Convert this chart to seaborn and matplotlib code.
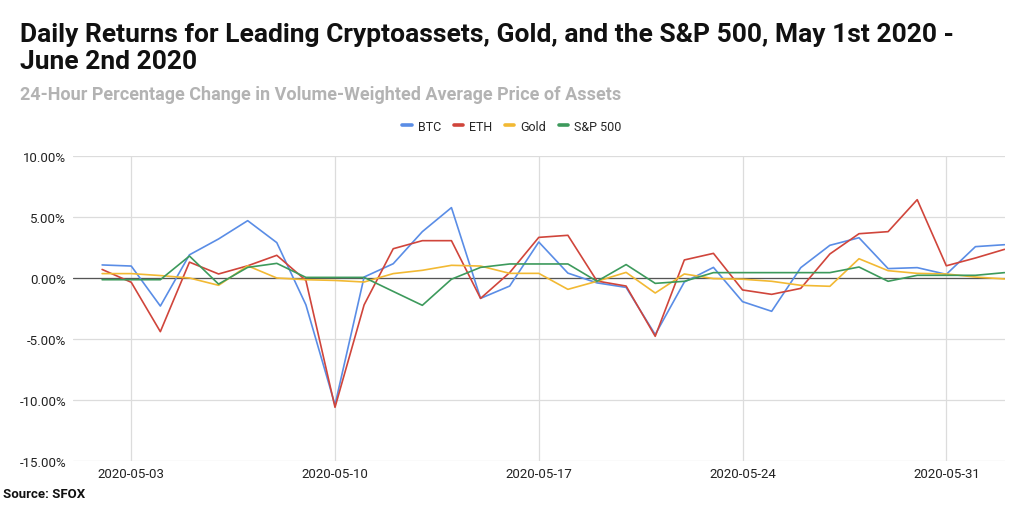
# ==========================================================
# Daily returns: BTC, ETH, Gold, S&P 500 (May 2 - Jun 2 2020)
# ==========================================================

import pandas as pd
import numpy as np
import matplotlib.pyplot as plt
import matplotlib.dates as mdates
from matplotlib.ticker import FuncFormatter
import seaborn as sns

# ==========================================================
# Data (percent change)
# ==========================================================

dates = pd.date_range("2020-05-02", "2020-06-02", freq="D")

btc = [1.07, 0.98, -2.3, 1.9, 3.2, 4.7, 2.9, -2.2, -10.4, 0.08, 1.17, 3.8,
       5.77, -1.67, -0.66, 2.95, 0.4, -0.4, -0.77, -4.64, -0.33, 0.87, -1.94,
       -2.73, 0.85, 2.68, 3.3, 0.77, 0.85, 0.3, 2.57, 2.73]
eth = [0.7, -0.35, -4.4, 1.3, 0.33, 1.0, 1.86, -0.2, -10.6, -2.2, 2.4, 3.06,
       3.06, -1.67, 0.44, 3.33, 3.5, -0.25, -0.66, -4.78, 1.48, 2.02, -0.98,
       -1.34, -0.85, 1.97, 3.63, 3.8, 6.42, 1.0, 1.64, 2.35]
gold = [0.36, 0.36, 0.2, 0.0, -0.6, 1.0, 0.0, -0.14, -0.2, -0.33, 0.36, 0.63,
        1.04, 0.98, 0.38, 0.38, -0.93, -0.27, 0.46, -1.23, 0.33, -0.05, -0.1,
        -0.27, -0.6, -0.68, 1.58, 0.6, 0.38, 0.33, 0.08, -0.08]
spx = [-0.14, -0.14, -0.14, 1.8, -0.5, 0.87, 1.2, 0.05, 0.05, 0.05, -1.1, -2.24,
       -0.1, 0.87, 1.15, 1.15, 1.15, -0.27, 1.1, -0.44, -0.27, 0.44, 0.44,
       0.44, 0.44, 0.44, 0.9, -0.27, 0.22, 0.22, 0.22, 0.44]

series_names = ["BTC", "ETH", "Gold", "S&P 500"]
colors = ["#5a8de6", "#d0453b", "#f2b933", "#3d9a5c"]

tick_dates = ["2020-05-03", "2020-05-10", "2020-05-17", "2020-05-24", "2020-05-31"]
y_ticks = [-15, -10, -5, 0, 5, 10]

df = pd.DataFrame({"date": dates, "BTC": btc, "ETH": eth, "Gold": gold, "S&P 500": spx})
long_df = df.melt(id_vars="date", var_name="asset", value_name="pct")

# ==========================================================
# Plot
# ==========================================================

sns.set_style("white")
plt.rcParams["font.family"] = ["Roboto", "DejaVu Sans"]

fig = plt.figure(figsize=(10.24, 5.06), dpi=100)
ax = fig.add_axes([0.0713, 0.087, 0.9097, 0.6027])

sns.lineplot(data=long_df, x="date", y="pct", hue="asset",
             hue_order=series_names, palette=colors,
             linewidth=1.2, ax=ax, legend=True)

ax.set_xlim(pd.Timestamp("2020-05-01"), pd.Timestamp("2020-06-02"))
ax.set_ylim(-15, 10)
ax.set_yticks(y_ticks)
ax.yaxis.set_major_formatter(FuncFormatter(lambda v, p: f"{v:.2f}%"))
ax.set_xticks(pd.to_datetime(tick_dates))
ax.xaxis.set_major_formatter(mdates.DateFormatter("%Y-%m-%d"))

ax.grid(True, color="#dcdcdc", linewidth=0.9)
ax.axhline(0, color="#555555", linewidth=0.9, zorder=1.5)
for s in ax.spines.values():
    s.set_visible(False)
ax.tick_params(axis="both", length=0, labelsize=9.5, colors="#222222")
ax.tick_params(axis="y", pad=5)
ax.tick_params(axis="x", pad=4)
ax.set_xlabel("")
ax.set_ylabel("")

handles, labels = ax.get_legend_handles_labels()
ax.legend_.remove()
for h in handles:
    h.set_linewidth(2.6)
fig.legend(handles, labels, loc="center", bbox_to_anchor=(0.5, 0.749),
           ncol=4, frameon=False, fontsize=9, handlelength=0.75,
           handletextpad=0.5, columnspacing=1.0)

# ==========================================================
# Titles and source
# ==========================================================

fig.text(0.0195, 0.955,
         "Daily Returns for Leading Cryptoassets, Gold, and the S&P 500, May 1st 2020 -\nJune 2nd 2020",
         ha="left", va="top", fontsize=19, fontweight="bold",
         color="#111111", linespacing=1.15)
fig.text(0.0195, 0.812,
         "24-Hour Percentage Change in Volume-Weighted Average Price of Assets",
         ha="left", va="center", fontsize=13, fontweight="bold",
         color="#b3b3b3")
fig.text(0.003, 0.022, "Source: SFOX", ha="left", va="center",
         fontsize=9.5, fontweight="bold", color="#111111")

fig.savefig("out.png", dpi=100)
